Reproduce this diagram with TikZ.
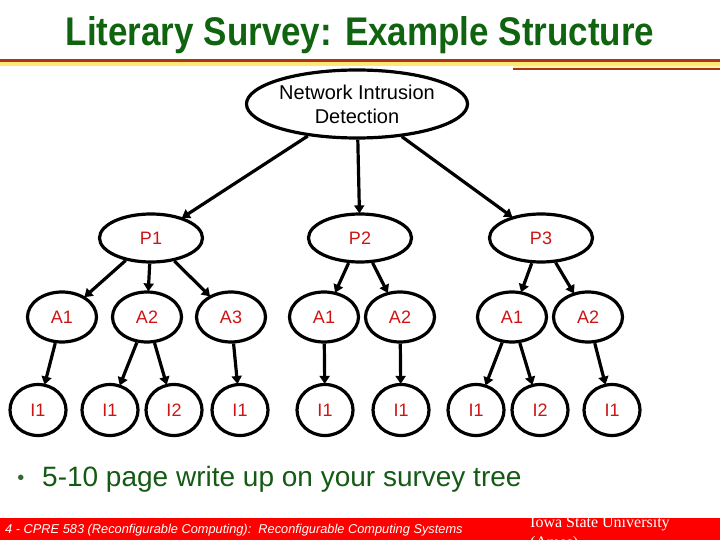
\documentclass[tikz,border=0pt]{standalone}
\usepackage{fontspec}
\setmainfont{Liberation Sans}
\newfontfamily\titlefont{Liberation Sans}[FakeStretch=0.875]
\newfontfamily\seriffont{Liberation Serif}
\usetikzlibrary{shapes.geometric,arrows.meta}
\definecolor{titlegreen}{RGB}{16,100,16}
\definecolor{bodygreen}{RGB}{20,90,20}
\definecolor{nodered}{RGB}{205,20,20}
\definecolor{footred}{RGB}{255,0,0}
\definecolor{linebrown}{RGB}{170,55,20}
\definecolor{lineyellow}{RGB}{255,232,120}
\definecolor{paleyellow}{RGB}{255,245,170}
\tikzset{
  treenode/.style={ellipse, draw=black, line width=3.2bp, inner sep=0pt, text=nodered,
     font=\fontsize{18bp}{21bp}\selectfont},
  pnode/.style={treenode, minimum width=103bp, minimum height=48bp},
  anode/.style={treenode, minimum width=69bp, minimum height=50bp},
  inode/.style={treenode, minimum width=56bp, minimum height=51bp},
  arr/.style={line width=3.2bp, -{Triangle[length=8bp,width=10bp]}, shorten >=-1bp},
}
\begin{document}
\begin{tikzpicture}[x=1bp,y=-1bp]
\useasboundingbox (0,0) rectangle (720,540);
\clip (0,0) rectangle (720,540);
% header lines
\fill[linebrown] (0,59.5) rectangle (720,62.5);
\fill[lineyellow] (0,62.5) rectangle (720,66);
\fill[paleyellow] (513,66) rectangle (720,68.5);
\fill[linebrown] (513,68.5) rectangle (720,70);
% title
\node[anchor=base, text=titlegreen, font=\titlefont\bfseries\fontsize{40bp}{44bp}\selectfont] (title) at (360,46) {Literary Survey: Example Structure};
% root
\node[ellipse, draw=black, line width=3.2bp, inner sep=0pt, minimum width=221bp, minimum height=68bp,
      align=center, font=\fontsize{20bp}{24bp}\selectfont] (root) at (357,104) {Network Intrusion\\Detection};
% P level
\node[pnode] (p1) at (151,238) {P1};
\node[pnode] (p2) at (360,238) {P2};
\node[pnode] (p3) at (541,238) {P3};
% A level
\node[anode] (a11) at (62,317) {A1};
\node[anode] (a12) at (147,317) {A2};
\node[anode] (a13) at (231,317) {A3};
\node[anode] (a21) at (324,317) {A1};
\node[anode] (a22) at (400,317) {A2};
\node[anode] (a31) at (512,317) {A1};
\node[anode] (a32) at (588,317) {A2};
% I level
\node[inode] (i1) at (38,410) {I1};
\node[inode] (i2) at (110,410) {I1};
\node[inode] (i3) at (174,410) {I2};
\node[inode] (i4) at (240,410) {I1};
\node[inode] (i5) at (325,410) {I1};
\node[inode] (i6) at (401,410) {I1};
\node[inode] (i7) at (476,410) {I1};
\node[inode] (i8) at (540,410) {I2};
\node[inode] (i9) at (612,410) {I1};
% connectors
\draw[arr] (root) -- (p1);
\draw[arr] (root) -- (p2);
\draw[arr] (root) -- (p3);
\draw[arr] (p1) -- (a11);
\draw[arr] (p1) -- (a12);
\draw[arr] (p1) -- (a13);
\draw[arr] (p2) -- (a21);
\draw[arr] (p2) -- (a22);
\draw[arr] (p3) -- (a31);
\draw[arr] (p3) -- (a32);
\draw[arr] (a11) -- (i1);
\draw[arr] (a12) -- (i2);
\draw[arr] (a12) -- (i3);
\draw[arr] (a13) -- (i4);
\draw[arr] (a21) -- (i5);
\draw[arr] (a22) -- (i6);
\draw[arr] (a31) -- (i7);
\draw[arr] (a31) -- (i8);
\draw[arr] (a32) -- (i9);
% bullet
\node[anchor=base, text=bodygreen!70!gray, font=\fontsize{20bp}{24bp}\selectfont] (bul) at (21,484) {•};
\node[anchor=base west, inner sep=0pt, text=bodygreen, font=\fontsize{28bp}{32bp}\selectfont] (btext) at (42,486) {5-10 page write up on your survey tree};
% footer
\fill[footred] (0,518) rectangle (720,540);
\node[anchor=base west, inner sep=0pt, text=white, font=\itshape\fontsize{12.8bp}{14bp}\selectfont] (foot) at (5,533) {4 - CPRE 583 (Reconfigurable Computing):\ \ Reconfigurable Computing Systems};
\node[anchor=base west, inner sep=0pt, text=white, font=\seriffont\fontsize{16bp}{19bp}\selectfont] (isu) at (530,527) {Iowa State University};
\node[anchor=base west, inner sep=0pt, text=white, font=\seriffont\fontsize{16bp}{19bp}\selectfont] (ames) at (530,547) {(Ames)};
\end{tikzpicture}
\end{document}
